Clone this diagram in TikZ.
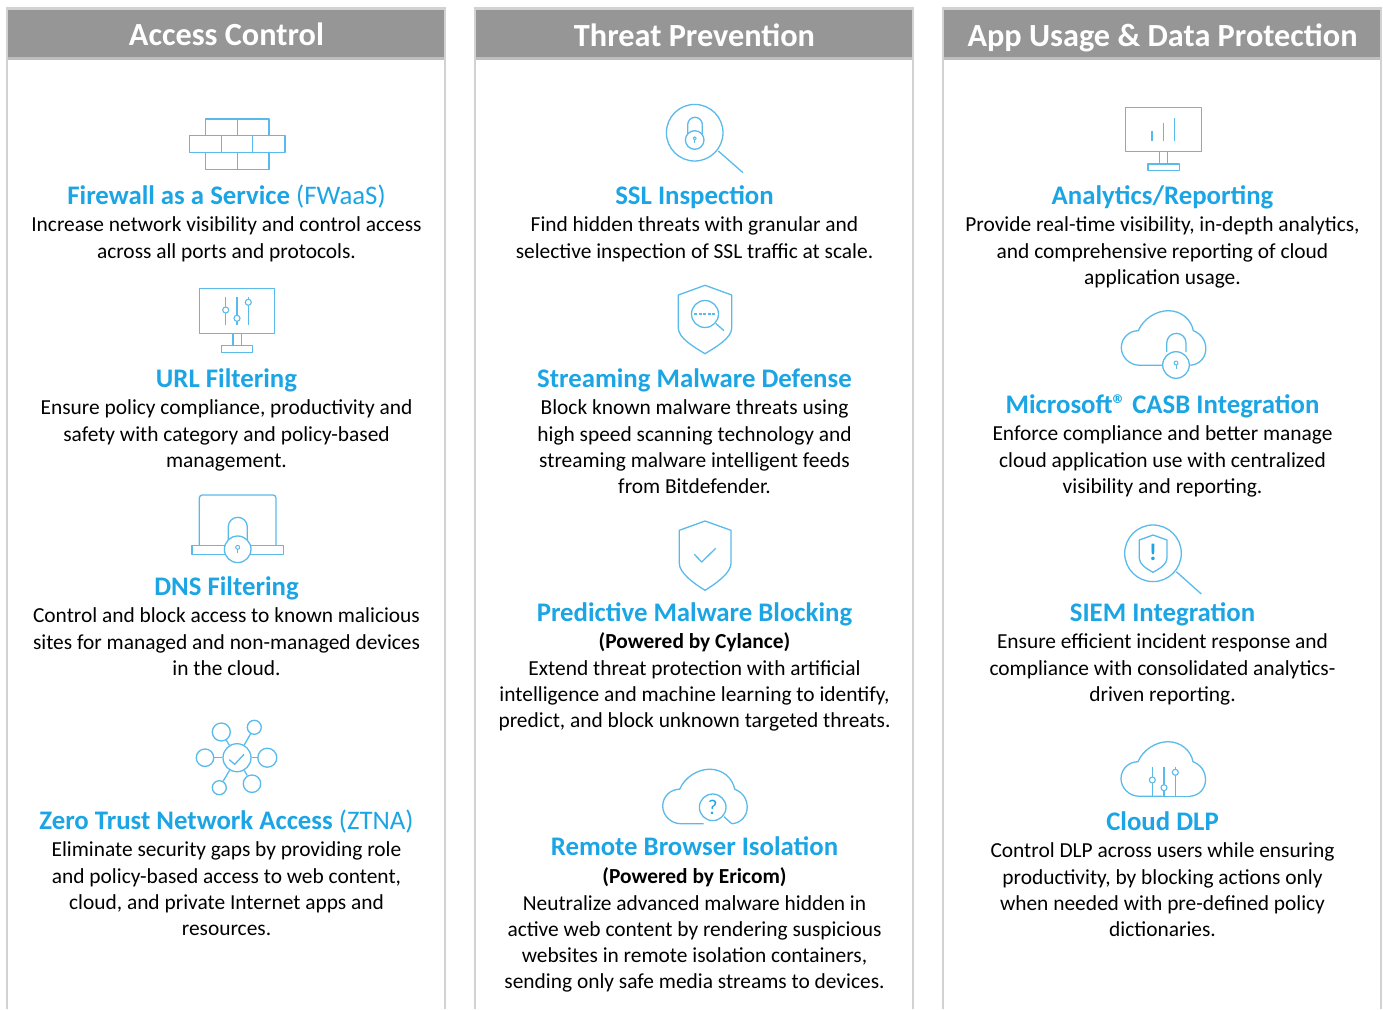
\documentclass[tikz,border=0pt]{standalone}
\usepackage{fontspec}
\setmainfont{Carlito}
\definecolor{ttlblue}{HTML}{1CA5E4}
\definecolor{icoblue}{HTML}{5ABAEA}
\definecolor{hdrgray}{HTML}{969696}
\definecolor{frmgray}{HTML}{D2D2D2}
\definecolor{hdrline}{HTML}{BEBEBE}
\tikzset{
  ico/.style={draw=icoblue,line width=1.3pt,line join=round,fill=none},
  icothick/.style={ico,line width=1.5pt},
  icodisc/.style={draw=icoblue,line width=1.3pt,fill=white},
  frameline/.style={draw=frmgray,line width=2.6pt},
  hdrbox/.style={fill=hdrgray,draw=none},
  hdrtext/.style={text=white,anchor=base,font=\fontsize{32.3}{36}\selectfont\bfseries,inner sep=0pt},
  ttltext/.style={text=ttlblue,anchor=north,inner sep=0pt,align=center,font=\fontsize{26.8}{30}\selectfont},
  bodytext/.style={text=black,anchor=north,inner sep=0pt,align=center,font=\fontsize{21.4}{26.15}\selectfont},
  satnode/.style={circle,draw=icoblue,line width=1.3pt,fill=white,inner sep=0pt,minimum size=#1}
}
\newcommand{\ttlnode}[4]{\node[ttltext] (#1) at (#2,{#3-20.6}) {\strut#4};}
\newcommand{\bodynode}[4]{\node[bodytext] (#1) at (#2,{#3-18.6}) {\strut#4};}
\newcommand{\colframe}[3]{%
  \draw[frameline] (#1,1009) -- (#1,8.5) -- (#2,8.5) -- (#2,1009);
  \fill[hdrbox] ({#1+1},10) rectangle ({#2-1},57.5);
  \draw[draw=hdrline,line width=2.2pt] ({#1+1},58.4) -- ({#2-1},58.4);
}
\newcommand{\cloudpath}[2]{%
  \draw[ico,shift={(#1,#2)}] (41,54.5) -- (18,54.5) .. controls (8,54.5) and (0,46) .. (0,37) .. controls (0,27) and (8,20) .. (17,20) .. controls (22,8) and (35,0) .. (47,0) .. controls (60,0) and (70,9) .. (72,20) .. controls (80,23) and (84.5,30) .. (84.5,38) .. controls (84.5,47) and (78,54) .. (69,54.5);
}
\newcommand{\keyhole}[2]{%
  \draw[ico,line width=1pt] (#1,#2) circle (2);
  \draw[ico,line width=1pt] (#1,{#2+2}) -- (#1,{#2+6});
}
\newcommand{\slider}[3]{%
  \draw[ico,line width=1.1pt] (#1,#2) -- (#1,#3);
}
\newcommand{\knob}[2]{\draw[icodisc,line width=1.1pt] (#1,#2) circle (3);}
\begin{document}
\begin{tikzpicture}[x=1pt,y=-1pt]
\useasboundingbox (0,0) rectangle (1383,1009);
% frames
\colframe{7}{445}{a}
\colframe{475}{913}{b}
\colframe{943}{1381}{c}
\node[hdrtext] (h1) at (226.5,45.5) {Access Control};
\node[hdrtext] (h2) at (694.5,46.5) {Threat Prevention};
\node[hdrtext] (h3) at (1162.5,46.5) {App Usage \& Data Protection};

% firewall icon
\draw[icothick] (205.7,119) rectangle (269,135.7);
\draw[icothick] (237.3,119) -- (237.3,135.7);
\draw[icothick] (189.3,135.7) rectangle (285,152.7);
\draw[icothick] (221.7,135.7) -- (221.7,152.7);
\draw[icothick] (252.7,135.7) -- (252.7,152.7);
\draw[icothick] (205.7,152.7) rectangle (269,169.3);
\draw[icothick] (237.3,152.7) -- (237.3,169.3);
% URL monitor
\draw[ico] (199.3,288.7) rectangle (274.7,333.3);
\draw[ico] (233,333.3) -- (233,345.3);
\draw[ico] (241.3,333.3) -- (241.3,345.3);
\draw[ico] (221.7,345.3) rectangle (252.7,352.3);
\slider{225.7}{296.7}{325}\slider{237}{296.7}{325}\slider{248.3}{296.7}{325}
\knob{225.7}{310}\knob{237}{318.3}\knob{248.3}{302.3}
% DNS laptop
\draw[ico,rounded corners=3pt] (199.3,545.7) -- (199.3,495) -- (276,495) -- (276,545.7);
\draw[ico] (192,545.7) rectangle (283.3,554.3);
\draw[ico] (228.3,540) -- (228.3,526.8) arc[start angle=180,end angle=360,radius=9.5] -- (247.3,540);
\draw[icodisc] (237.7,549.3) circle (13.3);
\keyhole{237.7}{547.3}
% ZTNA
\node[satnode=28pt] (zc) at (237,757.7) {};
\node[satnode=18pt] (z1) at (221.3,732) {};
\node[satnode=14pt] (z2) at (254.3,727.3) {};
\node[satnode=19pt] (z3) at (267.3,757.7) {};
\node[satnode=17.5pt] (z4) at (252,783.7) {};
\node[satnode=14pt] (z5) at (219.3,787.7) {};
\node[satnode=17.5pt] (z6) at (205,757.7) {};
\foreach \s in {z1,z2,z3,z4,z5,z6} \draw[ico] (zc) -- (\s);
\draw[ico] (229.3,759.7) -- (234.7,764.3) -- (244,754.3);
% SSL
\draw[ico] (694.7,132.7) circle (28.3);
\draw[ico] (718.3,151) -- (743,172.7);
\draw[ico] (687.7,134) -- (687.7,124.6) arc[start angle=180,end angle=360,radius=7.3] -- (702.3,134);
\draw[icodisc] (694.7,140) circle (9.3);
\draw[ico,line width=1pt] (694.7,138.3) circle (1.6);
\draw[ico,line width=1pt] (694.7,140) -- (694.7,143);
% Streaming shield
\draw[ico] (705,285.3) -- (731.7,295) -- (731.7,328) .. controls (731.7,338) and (716,347) .. (705,353.7) .. controls (694,347) and (678.3,338) .. (678.3,328) -- (678.3,295) -- cycle;
\draw[ico] (705,314) circle (13.5);
\draw[ico,dash pattern=on 3pt off 1.5pt] (694.3,314) -- (715.7,314);
\draw[ico] (715.7,323.3) -- (724,330.7);
% Predictive shield
\draw[ico] (705,521) -- (731,530.3) -- (731,563.3) .. controls (731,573) and (716,583.5) .. (705,590.3) .. controls (694,583.5) and (679.3,573) .. (679.3,563.3) -- (679.3,530.3) -- cycle;
\draw[ico] (694.3,554.3) -- (701.7,562) -- (715.7,548.3);
% RBI
\cloudpath{662.7}{769.2}
\draw[ico] (712.7,807.3) circle (13.3);
\draw[ico] (724,816.7) -- (731.7,823.7);
\node[text=ttlblue,inner sep=0pt,font=\fontsize{21}{24}\selectfont] (qm) at (712.7,807.3) {?};
% Analytics
\draw[ico] (1125.7,107.3) rectangle (1201.3,151.7);
\draw[ico] (1159.7,151.7) -- (1159.7,164);
\draw[ico] (1167.3,151.7) -- (1167.3,164);
\draw[ico] (1148,164) rectangle (1179.3,170.7);
\slider{1152}{130.7}{140.7}\slider{1163.3}{123.3}{140.7}\slider{1174.7}{118}{140.7}
% CASB
\cloudpath{1121.3}{310.7}
\draw[ico] (1166.7,352) -- (1166.7,343) arc[start angle=180,end angle=360,radius=9.65] -- (1186,352);
\draw[icodisc] (1176,365) circle (13.3);
\keyhole{1176}{363}
% SIEM
\draw[ico] (1153,553.3) circle (28.3);
\draw[ico] (1176.3,571.7) -- (1201.3,594);
\draw[ico] (1153,535) -- (1167,540) -- (1167,558.3) .. controls (1167,564) and (1160,568.5) .. (1153,572.3) .. controls (1146,568.5) and (1139.3,564) .. (1139.3,558.3) -- (1139.3,540) -- cycle;
\node[text=ttlblue,inner sep=0pt,font=\fontsize{24}{26}\selectfont\bfseries] (ex) at (1153,552.5) {!};
% Cloud DLP
\cloudpath{1121}{741.7}
\draw[ico] (1162,796.2) -- (1190.2,796.2);
\slider{1152.3}{766.7}{796}\slider{1164}{766.7}{796}\slider{1175.3}{766.7}{796}
\knob{1152.3}{780}\knob{1164}{787.7}\knob{1175.3}{772.3}

% column 1 text
\ttlnode{t11}{226.5}{204}{\textbf{Firewall as a Service} (FWaaS)}
\bodynode{b11}{226.5}{232}{Increase network visibility and control access\\across all ports and protocols.}
\ttlnode{t12}{226.5}{387}{\textbf{URL Filtering}}
\bodynode{b12}{226.5}{415}{Ensure policy compliance, productivity and\\safety with category and policy-based\\management.}
\ttlnode{t13}{226.5}{595}{\textbf{DNS Filtering}}
\bodynode{b13}{226.5}{623}{Control and block access to known malicious\\sites for managed and non-managed devices\\in the cloud.}
\ttlnode{t14}{226.5}{829}{\textbf{Zero Trust Network Access} (ZTNA)}
\bodynode{b14}{226.5}{857}{Eliminate security gaps by providing role\\and policy-based access to web content,\\cloud, and private Internet apps and\\resources.}
% column 2 text
\ttlnode{t21}{694.5}{204}{\textbf{SSL Inspection}}
\bodynode{b21}{694.5}{232}{Find hidden threats with granular and\\selective inspection of SSL traffic at scale.}
\ttlnode{t22}{694.5}{387}{\textbf{Streaming Malware Defense}}
\bodynode{b22}{694.5}{415}{Block known malware threats using\\high speed scanning technology and\\streaming malware intelligent feeds\\from Bitdefender.}
\ttlnode{t23}{694.5}{621}{\textbf{Predictive Malware Blocking}}
\bodynode{b23}{694.5}{649}{\textbf{(Powered by Cylance)}\\Extend threat protection with artificial\\intelligence and machine learning to identify,\\predict, and block unknown targeted threats.}
\ttlnode{t24}{694.5}{855}{\textbf{Remote Browser Isolation}}
\bodynode{b24}{694.5}{884}{\textbf{(Powered by Ericom)}\\Neutralize advanced malware hidden in\\active web content by rendering suspicious\\websites in remote isolation containers,\\sending only safe media streams to devices.}
% column 3 text
\ttlnode{t31}{1162.5}{204}{\textbf{Analytics/Reporting}}
\bodynode{b31}{1162.5}{232}{Provide real-time visibility, in-depth analytics,\\and comprehensive reporting of cloud\\application usage.}
\ttlnode{t32}{1162.5}{413}{\textbf{Microsoft® CASB Integration}}
\bodynode{b32}{1162.5}{441}{Enforce compliance and better manage\\cloud application use with centralized\\visibility and reporting.}
\ttlnode{t33}{1162.5}{621}{\textbf{SIEM Integration}}
\bodynode{b33}{1162.5}{649}{Ensure efficient incident response and\\compliance with consolidated analytics-\\driven reporting.}
\ttlnode{t34}{1162.5}{830}{\textbf{Cloud DLP}}
\bodynode{b34}{1162.5}{858}{Control DLP across users while ensuring\\productivity, by blocking actions only\\when needed with pre-defined policy\\dictionaries.}
\end{tikzpicture}
\end{document}
